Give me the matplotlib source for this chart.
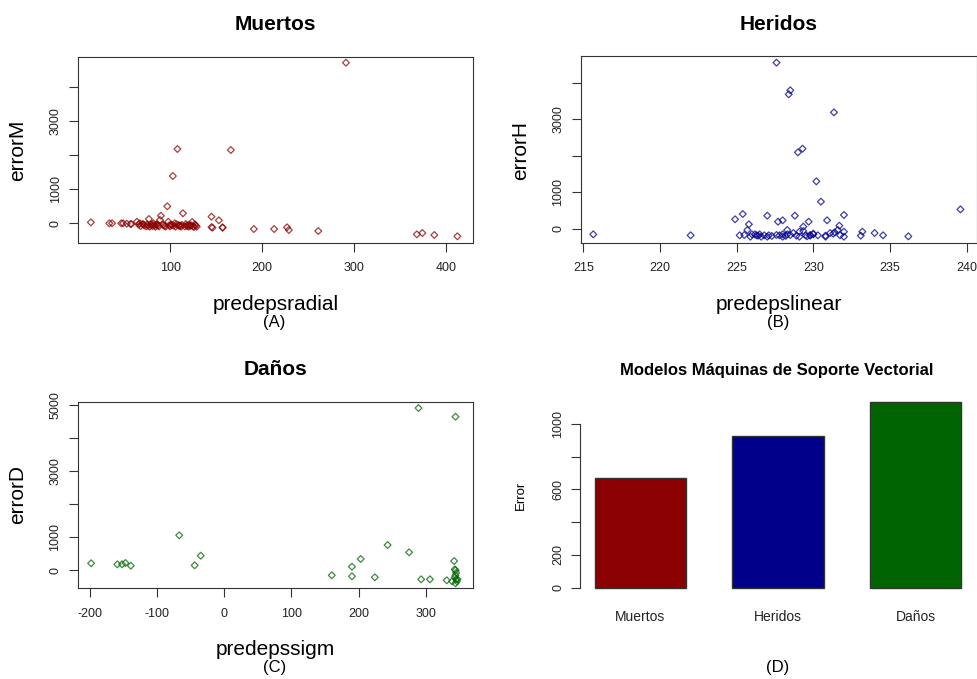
import numpy as np
import matplotlib
matplotlib.use('Agg')
import matplotlib.pyplot as plt

plt.rcParams['font.family'] = ['Liberation Sans', 'DejaVu Sans']
plt.rcParams['axes.unicode_minus'] = False

# --- data ---
# (A) Muertos: radial SVM prediction vs error
predepsradial = [14, 34, 37, 47, 49, 53, 57, 58, 64, 67, 71, 77, 82, 86, 89, 90, 93, 97,
                 98, 102, 103, 105, 108, 109, 114, 118, 124, 127, 145, 146, 145, 153,
                 157, 157, 166, 191, 213, 227, 229, 261, 291, 368, 374, 387, 412,
                 66, 68, 70, 72, 74, 75, 76, 78, 79, 80, 81, 83, 84, 85, 87, 88, 92,
                 94, 95, 99, 100, 101, 104, 106, 107, 110, 111, 112, 113, 116, 117,
                 119, 120, 121, 122, 123, 125, 126, 128, 129]
errorM = [29, 0, 0, 0, 0, -10, -20, -20, 47, 0, -30, 126, 0, -30, 97, 224, -50, 500,
          47, -50, 1391, 0, 2185, -50, 294, -70, 40, -30, 194, -129, -110, 88,
          -118, -130, 2156, -168, -168, -118, -197, -226, 4724, -324, -285, -344, -382,
          -40, -80, -20, -60, -90, -30, -70, -100, -50, -20, -80, -60, -100, -40, -70, -90, -30,
          -80, -100, -60, -90, -40, -70, -100, -30, -80, -60, -100, -50, -90, -20,
          -70, -100, -40, -80, -60, -90, -110, -70, -100]

# (B) Heridos: linear SVM prediction vs error
predepslinear = [215.65, 222.0, 224.9, 225.4, 225.8, 225.2, 225.7, 226.0, 226.3, 226.5, 226.8,
                 227.0, 227.1, 227.6, 227.7, 228.0, 227.8, 228.0, 228.2, 228.3, 228.4, 228.5,
                 228.5, 228.8, 228.7, 228.9, 229.0, 229.3, 229.1, 229.35, 229.5, 229.7, 229.6,
                 229.8, 230.0, 230.2, 230.3, 230.5, 230.8, 230.9, 231.1, 231.35, 231.3, 231.6,
                 231.7, 231.75, 232.0, 232.0, 233.2, 233.1, 234.0, 234.55, 236.2, 239.6,
                 225.5, 225.9, 226.2, 226.4, 226.6, 227.0, 227.3, 227.6, 228.0, 228.3, 229.1,
                 229.35, 229.8, 230.0, 230.8, 231.4, 232.0]
errorH = [-146, -173, 265, 410, 128, -173, -27, -146, -173, -146, -173,
          365, -173, 4550, 200, 237, -173, -146, -190, -27, 3684, 3793,
          -164, 365, -110, -182, 2097, 2197, -73, 64, -173, 200, -200,
          -164, -128, 1303, -173, 748, -182, 237, -110, 3190, -128, -27,
          91, -173, 383, -73, -73, -182, -110, -173, -201, 537,
          -164, -210, -146, -182, -210, -210, -190, -164, -210, -146, -210,
          -55, -182, -146, -210, -91, -210]

# (C) Daños: sigmoid SVM prediction vs error
predepssigm = [-198, -159, -152, -147, -139, -67, -44, -35, 160, 190, 190, 203, 224, 243,
               275, 289, 293, 306, 331, 344, 342, 343, 344, 345, 344, 343, 345, 339, 346,
               344, 347]
errorD = [212, 181, 181, 221, 139, 1059, 151, 442, -151, 109, -181, 342, -212, 765,
          544, 4909, -272, -272, -302, 4646, 281, 30, 0, -72, -151, -212, -272, -333, -333,
          -393, -272]

# (D) mean error per model
modelos = ['Muertos', 'Heridos', 'Daños']
error_modelo = [667, 925, 1132]
colores = ['#8B0000', '#00008B', '#006400']

W, H = 978, 679
fig = plt.figure(figsize=(W / 100, H / 100), dpi=100)


def box(l, t, r, b):
    return [l / W, 1 - b / H, (r - l) / W, (b - t) / H]


def fx(x):
    return x / W


def fy(y):
    return 1 - y / H


def style(ax, xticks, yticks, ylabels):
    for s in ax.spines.values():
        s.set_color('#333333')
        s.set_linewidth(0.8)
    ax.set_xticks(xticks)
    ax.set_yticks(yticks)
    ax.set_yticklabels(ylabels, rotation=90, va='center')
    ax.tick_params(axis='both', length=6.5, width=0.8, color='#333333',
                   labelsize=9, labelcolor='#222222')
    ax.tick_params(axis='x', pad=7.5)
    ax.tick_params(axis='y', pad=5.3)


def scatter_panel(rect, x, y, col, xlim, ylim, xticks, yticks, ylabels,
                  title, xlab, ylab, sub, cx, top_y, bot_y, ylab_x):
    ax = fig.add_axes(rect)
    ax.scatter(x, y, marker='D', s=12, facecolors='none', edgecolors=col,
               linewidths=0.9, alpha=0.75)
    ax.set_xlim(*xlim)
    ax.set_ylim(*ylim)
    style(ax, xticks, yticks, ylabels)
    fig.text(fx(cx), fy(top_y - 26.5), title, ha='center', va='baseline',
             fontsize=15, fontweight='bold')
    fig.text(fx(cx), fy(bot_y + 67), xlab, ha='center', va='baseline', fontsize=15)
    fig.text(fx(cx - 1), fy(bot_y + 84), sub, ha='center', va='baseline', fontsize=12)
    fig.text(fx(ylab_x), fy((top_y + bot_y) / 2), ylab, ha='center', va='center',
             rotation=90, fontsize=15)
    return ax


scatter_panel(box(78, 57, 473, 243), predepsradial, errorM, colores[0],
              (0, 429), (-579, 4891), [100, 200, 300, 400],
              [0, 1000, 2000, 3000, 4000], ['0', '1000', '', '3000', ''],
              'Muertos', 'predepsradial', 'errorM', '(A)', 275.5, 57, 243, 18)

scatter_panel(box(580.7, 56, 976.7, 243), predepslinear, errorH, colores[1],
              (214.83, 240.66), (-383, 4732), [215, 220, 225, 230, 235, 240],
              [0, 1000, 2000, 3000, 4000], ['0', '1000', '', '3000', ''],
              'Heridos', 'predepslinear', 'errorH', '(B)', 778.7, 57, 243, 520.7)

scatter_panel(box(77.7, 401.7, 473.3, 588.3), predepssigm, errorD, colores[2],
              (-218, 370.5), (-544, 5100), [-200, -100, 0, 100, 200, 300],
              [0, 1000, 2000, 3000, 4000, 5000], ['0', '1000', '', '3000', '', '5000'],
              'Daños', 'predepssigm', 'errorD', '(C)', 275.5, 401.7, 588.3, 18)

# (D) bar chart, R barplot style with space=0.5
axd = fig.add_axes(box(580, 394.7, 976, 595.1))
pos = 1 + 1.5 * np.arange(len(modelos))
axd.bar(pos, error_modelo, width=1.0, color=colores, edgecolor='#333333', linewidth=1.0)
axd.set_xlim(0.34, 4.66)
axd.set_ylim(-45, 1177)
for side in ['top', 'right', 'bottom']:
    axd.spines[side].set_visible(False)
axd.spines['left'].set_bounds(0, 1000)
axd.spines['left'].set_color('#333333')
axd.spines['left'].set_linewidth(0.8)
axd.set_yticks([0, 200, 400, 600, 800, 1000])
axd.set_yticklabels(['0', '200', '', '600', '', '1000'], rotation=90, va='center')
axd.tick_params(axis='y', length=6.5, width=0.8, color='#333333', labelsize=9,
                labelcolor='#222222', pad=4.8)
axd.set_xticks(pos)
axd.set_xticklabels(modelos)
axd.tick_params(axis='x', length=0, labelsize=10, labelcolor='#222222', pad=10.5)
fig.text(fx(777), fy(375), 'Modelos Máquinas de Soporte Vectorial', ha='center',
         va='baseline', fontsize=12, fontweight='bold')
fig.text(fx(777.5), fy(672), '(D)', ha='center', va='baseline', fontsize=12)
fig.text(fx(520.7), fy(495), 'Error', ha='center', va='center', rotation=90, fontsize=9.5)

fig.savefig('out.png', dpi=100)
